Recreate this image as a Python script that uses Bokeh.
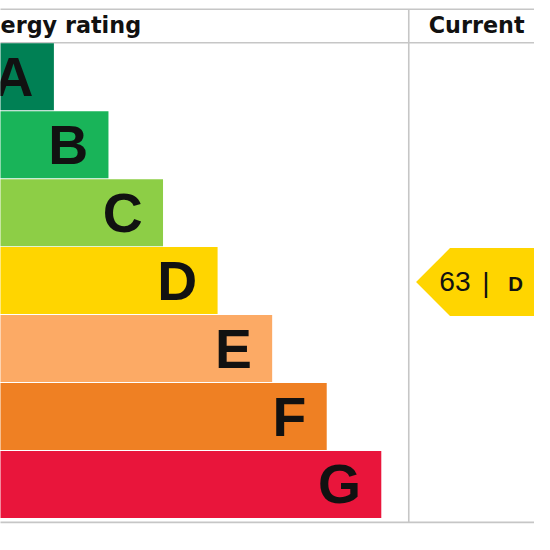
import numpy as np
from bokeh.plotting import figure
from bokeh.models import Range1d, ColumnDataSource
from bokeh.core.properties import value
from bokeh.embed import file_html
from bokeh.resources import INLINE

# ---- data ----
bands = ["A", "B", "C", "D", "E", "F", "G"]
band_colors = ["#008054", "#19b459", "#8dce46", "#ffd500", "#fcaa65", "#ef8023", "#e9153b"]
current_score = 63
current_band = "D"
header_left = "Energy rating"
header_right = "Current"

# ---- layout (reference pixel space, 550 x 550) ----
W = 534
S = W / 550.0
row_top0 = 44.0
row_h = 70.0
bar_w0 = 55.0
bar_step = 56.2
divider_x = 420.5
line_color = "#c6c6c6"
SANS = "'Liberation Sans', Arial, sans-serif"

def fs(px):
    return f"{px * S:.1f}px"

idx = np.arange(len(bands))
tops = row_top0 + idx * row_h
bottoms = tops + row_h - 1
rights = bar_w0 + idx * bar_step
lefts = np.full(len(bands), -200.0)

src = ColumnDataSource(dict(left=lefts, right=rights, top=tops, bottom=bottoms,
                            color=band_colors, label=bands,
                            lx=rights - 21, ly=(tops + bottoms) / 2))

p = figure(width=W, height=W, output_backend="svg", toolbar_location=None,
           x_range=Range1d(0, 550), y_range=Range1d(550, 0),
           x_axis_type=None, y_axis_type=None, min_border=0)
p.grid.visible = False
p.outline_line_color = None
p.background_fill_color = "white"

# grid lines
for yy in [9.0, 43.5, 537.5]:
    p.segment(x0=-200, y0=yy, x1=800, y1=yy, line_color=line_color, line_width=1.6)
p.segment(x0=divider_x, y0=9.0, x1=divider_x, y1=537.5, line_color=line_color, line_width=1.6)

# bars
p.quad(left="left", right="right", top="top", bottom="bottom", source=src,
       fill_color="color", line_color=None)
p.text(x="lx", y="ly", text="label", source=src, text_align="right",
       text_baseline="middle", text_font=value(SANS),
       text_font_style="bold", text_font_size=fs(57), text_color="#111111")

# headers
p.text(x=[-32], y=[25], text=[header_left], text_align="left", text_baseline="middle",
       text_font=value("DejaVu Sans"), text_font_style="bold", text_font_size=fs(23),
       text_color="#111111")
p.text(x=[441], y=[25], text=[header_right], text_align="left", text_baseline="middle",
       text_font=value("DejaVu Sans"), text_font_style="bold", text_font_size=fs(23),
       text_color="#111111")

# current arrow
ci = bands.index(current_band)
a_top = tops[ci] + 1
a_bot = bottoms[ci] + 2
a_mid = (a_top + a_bot) / 2
tip = divider_x + 7.5
corner = tip + (a_bot - a_top) / 2
p.patch(x=[tip, corner, 800, 800, corner], y=[a_mid, a_top, a_top, a_bot, a_bot],
        fill_color=band_colors[ci], line_color=None)
p.text(x=[452], y=[289.5], text=[str(current_score)], text_align="left",
       text_baseline="middle", text_font=value(SANS),
       text_font_size=fs(29), text_color="#111111")
p.text(x=[500], y=[289.5], text=["|"], text_align="center",
       text_baseline="middle", text_font=value(SANS),
       text_font_size=fs(29), text_color="#111111")
p.text(x=[523], y=[291.5], text=[current_band], text_align="left",
       text_baseline="middle", text_font=value(SANS),
       text_font_style="bold", text_font_size=fs(21), text_color="#111111")

open("out.html", "w").write(file_html(p, INLINE))
